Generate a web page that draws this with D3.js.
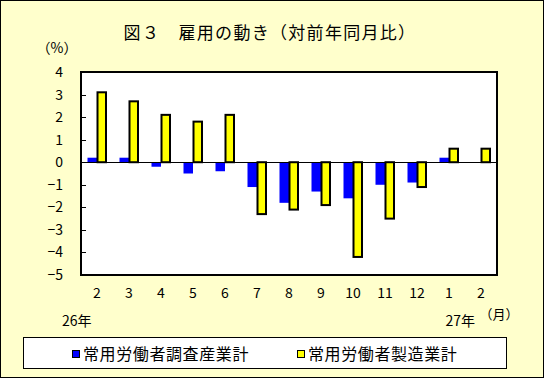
<!DOCTYPE html>
<html>
<head>
<meta charset="utf-8">
<script src="https://cdn.jsdelivr.net/npm/d3@7"></script>
<style>
  html, body { margin: 0; padding: 0; background: #fff; }
  svg { display: block; }
  text { font-family: "Noto Sans CJK JP", sans-serif; fill: #000; }
</style>
</head>
<body>
<div id="Chart"></div>
<script>
// DATA
const MONTHS = ["2", "3", "4", "5", "6", "7", "8", "9", "10", "11", "12", "1", "2b"];
const MONTH_LABELS = ["2", "3", "4", "5", "6", "7", "8", "9", "10", "11", "12", "1", "2"];
const SERIES = ["常用労働者調査産業計", "常用労働者製造業計"];
const ALL_INDUSTRY = [0.2, 0.2, -0.2, -0.5, -0.4, -1.1, -1.8, -1.3, -1.6, -1.0, -0.9, 0.2, null];
const MANUFACTURING = [3.1, 2.7, 2.1, 1.8, 2.1, -2.3, -2.1, -1.9, -4.2, -2.5, -1.1, 0.6, 0.6];
const Y_TICKS = [4, 3, 2, 1, 0, -1, -2, -3, -4, -5];
const COLORS = ["#0000ff", "#ffff00"];

const W = 544, H = 378;
const plot = {left: 81, top: 72, right: 497, bottom: 275};

const svg = d3.select("#Chart")
    .append("svg")
    .attr("width", W)
    .attr("height", H);

// background + outer border
svg.append("rect")
    .attr("x", 0.5).attr("y", 0.5)
    .attr("width", W - 1).attr("height", H - 1)
    .attr("fill", "#ffffcc")
    .attr("stroke", "#000")
    .attr("stroke-width", 1);

svg.append("text")
    .attr("x", 270).attr("y", 39)
    .attr("text-anchor", "middle")
    .style("font-size", "17px")
    .style("letter-spacing", "1.3px")
    .text("図３　雇用の動き（対前年同月比）");

svg.append("text")
    .attr("x", 57).attr("y", 53)
    .attr("text-anchor", "middle")
    .style("font-size", "14px")
    .text("（%）");

const x0 = d3.scaleBand()
    .domain(MONTHS)
    .range([plot.left, plot.right]);

const y = d3.scaleLinear()
    .domain([-5, 4])
    .range([plot.bottom, plot.top]);

const fmt = d3.format("d");

// plot area
svg.append("rect")
    .attr("x", plot.left).attr("y", plot.top)
    .attr("width", plot.right - plot.left)
    .attr("height", plot.bottom - plot.top)
    .attr("fill", "#fff");

// inner ticks on the left
svg.append("g")
    .selectAll("line")
    .data(Y_TICKS)
    .join("line")
    .attr("x1", plot.left).attr("x2", plot.left + 5)
    .attr("y1", d => Math.round(y(d)) + 0.5)
    .attr("y2", d => Math.round(y(d)) + 0.5)
    .attr("stroke", "#000");

svg.append("g")
    .selectAll("text")
    .data(Y_TICKS)
    .join("text")
    .attr("x", 63)
    .attr("y", d => y(d) + 5)
    .attr("text-anchor", "end")
    .style("font-size", "14px")
    .text(d => fmt(d));

// bars
const barW = 9.5;
const rows = MONTHS.map((m, i) => ({m, vals: [ALL_INDUSTRY[i], MANUFACTURING[i]]}));

const group = svg.append("g")
    .selectAll("g")
    .data(rows)
    .join("g")
    .attr("transform", d => `translate(${x0(d.m) + x0.bandwidth() / 2},0)`);

const x1 = d3.scaleBand()
    .domain([0, 1])
    .range([-barW, barW]);

group.selectAll("rect")
    .data(d => d.vals.map((v, k) => ({v, k})).filter(e => e.v !== null))
    .join("rect")
    .attr("x", e => x1(e.k) + (e.k === 1 ? 0.5 : 0))
    .attr("y", e => Math.min(y(e.v), y(0)))
    .attr("width", e => x1.bandwidth() - (e.k === 1 ? 1 : 0))
    .attr("height", e => Math.abs(y(e.v) - y(0)))
    .attr("fill", e => COLORS[e.k])
    .attr("stroke", e => e.k === 1 ? "#000" : "none")
    .attr("stroke-width", 2);

// zero line
svg.append("line")
    .attr("x1", plot.left).attr("x2", plot.right)
    .attr("y1", Math.round(y(0)) + 0.5).attr("y2", Math.round(y(0)) + 0.5)
    .attr("stroke", "#000");

// plot frame
svg.append("rect")
    .attr("x", plot.left).attr("y", plot.top)
    .attr("width", plot.right - plot.left)
    .attr("height", plot.bottom - plot.top)
    .attr("fill", "none")
    .attr("stroke", "#000")
    .attr("stroke-width", 2);

// month labels
svg.append("g")
    .selectAll("text")
    .data(MONTHS)
    .join("text")
    .attr("x", d => x0(d) + x0.bandwidth() / 2)
    .attr("y", 298)
    .attr("text-anchor", "middle")
    .style("font-size", "14px")
    .text((d, i) => MONTH_LABELS[i]);

svg.append("text")
    .attr("x", 62).attr("y", 326)
    .style("font-size", "14px")
    .text("26年");

svg.append("text")
    .attr("x", 475).attr("y", 326)
    .attr("text-anchor", "end")
    .style("font-size", "14px")
    .text("27年");

svg.append("text")
    .attr("x", 499).attr("y", 319)
    .attr("text-anchor", "middle")
    .style("font-size", "13px")
    .text("（月）");

// legend
svg.append("rect")
    .attr("x", 23.5).attr("y", 337.5)
    .attr("width", 483).attr("height", 31)
    .attr("fill", "#fff")
    .attr("stroke", "#000");

const legendX = [72, 297];
const leg = svg.append("g")
    .selectAll("g")
    .data(SERIES)
    .join("g")
    .attr("transform", (d, i) => `translate(${legendX[i]},350)`);

leg.append("rect")
    .attr("x", 0.5).attr("y", 0.5)
    .attr("width", 7).attr("height", 7)
    .attr("fill", (d, i) => COLORS[i])
    .attr("stroke", "#000");

leg.append("text")
    .attr("x", 11).attr("y", 10)
    .style("font-size", "16px")
    .style("letter-spacing", "0.6px")
    .text(d => d);
</script>
</body>
</html>
